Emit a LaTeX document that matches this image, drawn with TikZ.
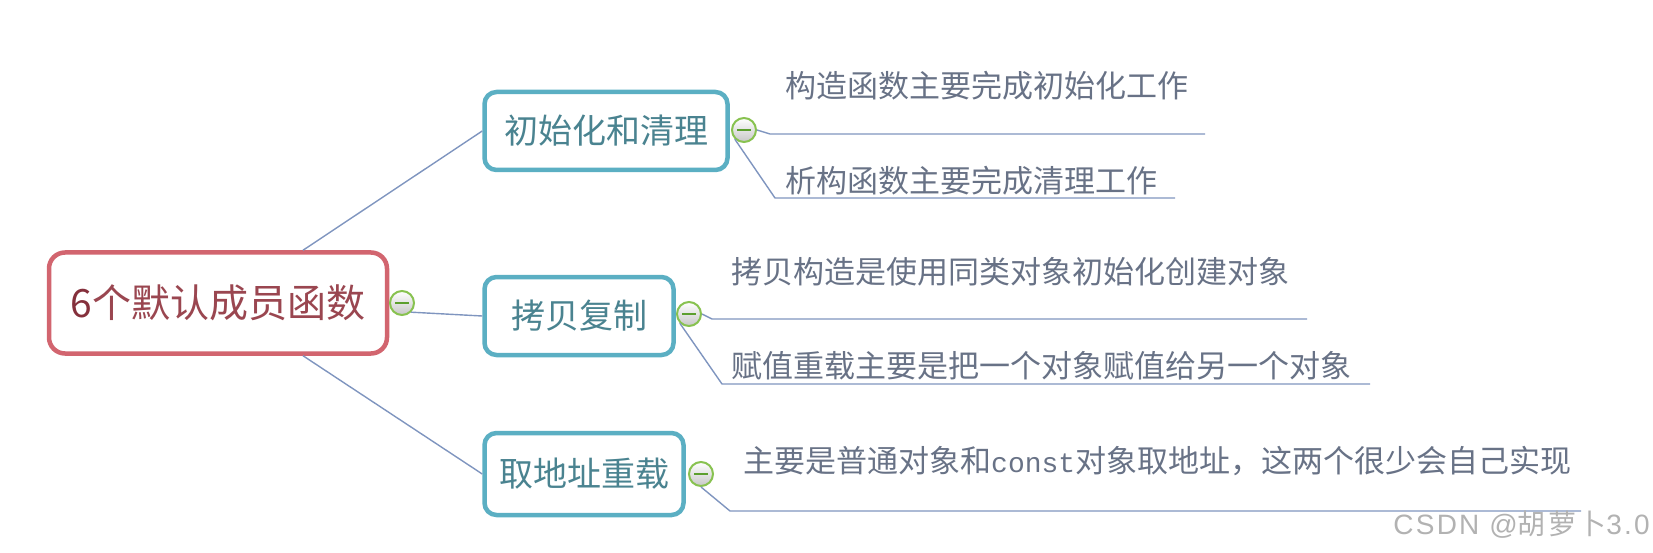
\documentclass[tikz,border=0pt]{standalone}
\usepackage{fontspec}
\setmainfont{Noto Sans CJK SC}
\newfontfamily\codefont{Liberation Mono}
\newfontfamily\markfont[LetterSpace=8]{Liberation Sans}
\newfontfamily\markcjk[LetterSpace=8]{Noto Sans CJK SC}
\usetikzlibrary{positioning}
\definecolor{rootc}{HTML}{D2656F}
\definecolor{roott}{HTML}{9A4650}
\definecolor{sixc}{HTML}{85303C}
\definecolor{topc}{HTML}{5BAFC3}
\definecolor{topt}{HTML}{4A8390}
\definecolor{leaft}{HTML}{687286}
\definecolor{linec}{HTML}{7F95BF}
\definecolor{foldc}{HTML}{88C250}
\definecolor{foldm}{HTML}{5C9F2E}
\newcommand{\code}[1]{{\codefont\fontsize{28}{33}\selectfont #1}}
\tikzset{
  rootbox/.style={draw=rootc,line width=4.5,rounded corners=16,fill=white,text=roott,
    minimum width=338,minimum height=101,font=\fontsize{39}{42}\selectfont},
  topic/.style={draw=topc,line width=4.5,rounded corners=12,fill=white,text=topt,
    minimum height=78,font=\fontsize{34}{36}\selectfont},
  leaf/.style={text=leaft,anchor=west,inner sep=0,font=\fontsize{31}{33}\selectfont},
  conn/.style={draw=linec,line width=1.4},
  fold/.style={circle,draw=foldc,line width=2,minimum size=24,inner sep=0,
    top color=white,bottom color=black!22,
    path picture={\draw[foldm,line width=2.6]
      ([xshift=-7]path picture bounding box.center) -- ([xshift=7]path picture bounding box.center);}},
}

\begin{document}
\begin{tikzpicture}[x=1pt,y=-1pt]
\useasboundingbox (0,0) rectangle (1653,553);
% topics
\node[rootbox] (root) at (218,303) {\textcolor{sixc}{6}个默认成员函数};
\node[topic,minimum width=243] (t1) at (606,131) {初始化和清理};
\node[topic,minimum width=189] (t2) at (579,316) {拷贝复制};
\node[topic,minimum width=199,minimum height=82] (t3) at (584,474) {取地址重载};
\node[fold] (f0) at (402,303) {};
\node[fold] (f1) at (744,130) {};
\node[fold] (f2) at (689,314) {};
\node[fold] (f3) at (701,474) {};
\draw[conn] ([xshift=85]root.north) -- (t1.west);
\draw[conn] (f0.south east) -- (t2.west);
\draw[conn] ([xshift=85]root.south) -- (t3.west);
% leaves
\node[leaf] (l1a) at (785,86) {构造函数主要完成初始化工作};
\node[leaf] (l1b) at (785,181) {析构函数主要完成清理工作};
\node[leaf] (l2a) at (731,272) {拷贝构造是使用同类对象初始化创建对象};
\node[leaf] (l2b) at (731,366) {赋值重载主要是把一个对象赋值给另一个对象};
\node[leaf] (l3) at (743,461) {主要是普通对象和\code{const}对象取地址，这两个很少会自己实现};
\coordinate (u1a) at (770,134); \coordinate (e1a) at (1205,134);
\coordinate (u1b) at (775,198); \coordinate (e1b) at (1175,198);
\coordinate (u2a) at (712,319); \coordinate (e2a) at (1307,319);
\coordinate (u2b) at (722,384); \coordinate (e2b) at (1370,384);
\coordinate (u3) at (730,511); \coordinate (e3) at (1581,511);
\draw[conn] (f1.east) -- (u1a) -- (e1a);
\draw[conn] (f1.south west) -- (u1b) -- (e1b);
\draw[conn] (f2.east) -- (u2a) -- (e2a);
\draw[conn] (f2.south west) -- (u2b) -- (e2b);
\draw[conn] (f3.south) -- (u3) -- (e3);
\node[text=black!30,font=\markfont\fontsize{28}{30}\selectfont,anchor=east,inner sep=0] (wm) at (1650,525) {CSDN @{\markcjk 胡萝卜}3.0};
\end{tikzpicture}
\end{document}
